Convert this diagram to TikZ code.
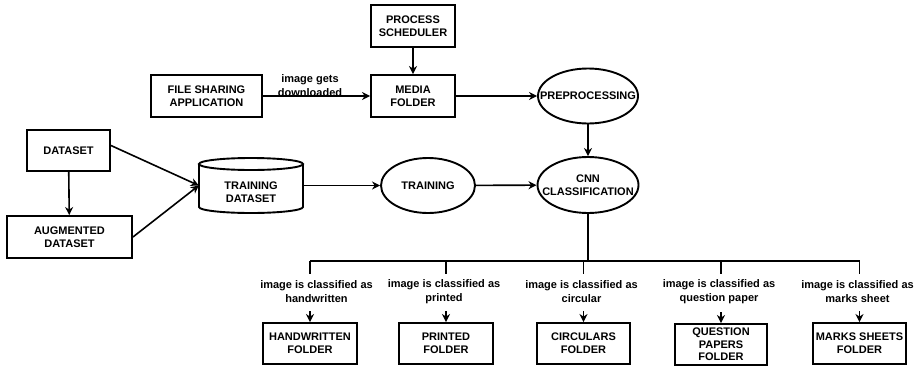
\documentclass[tikz,border=0pt]{standalone}
\usepackage{fontspec}
\setmainfont{Liberation Sans}
\usetikzlibrary{arrows.meta,shapes.geometric}
\begin{document}
\begin{tikzpicture}[x=1pt,y=-1pt,
 box/.style={draw, line width=1.9pt, align=center, inner sep=1pt, font=\bfseries\fontsize{11}{13}\selectfont},
 oval/.style={draw, ellipse, line width=1.9pt, inner sep=0pt},
 txt/.style={align=center, inner sep=0pt, font=\bfseries\fontsize{11}{13}\selectfont},
 lbl/.style={align=center, inner sep=0pt, font=\bfseries\fontsize{11}{14}\selectfont},
 arr/.style={line width=1.6pt, -{Stealth[length=8pt,width=8pt,inset=2.5pt]}},
 ln/.style={line width=1.6pt}]
\useasboundingbox (0,0) rectangle (920,367);

% top row
\node[box, minimum width=84pt, minimum height=42pt] (ps) at (413,26) {PROCESS\\SCHEDULER};
\node[box, minimum width=84pt, minimum height=42pt] (mf) at (413,96) {MEDIA\\FOLDER};
\node[box, minimum width=111pt, minimum height=42pt] (fs) at (206.5,96) {FILE SHARING\\APPLICATION};
\node[oval, minimum width=100pt, minimum height=55pt] (pre) at (588,96) {};
\node[txt] (preT) at (pre.center) {PREPROCESSING};

% middle row
\node[oval, minimum width=101pt, minimum height=56pt] (cnn) at (588,185) {};
\node[txt] (cnnT) at (cnn.center) {CNN\\CLASSIFICATION};
\node[oval, minimum width=94pt, minimum height=55pt] (tr) at (428,185.5) {};
\node[txt] (trT) at (tr.center) {TRAINING};
\node[minimum width=104pt, minimum height=55pt, inner sep=0pt] (td) at (251,185.5) {};
\draw[line width=1.9pt] (199,164) -- (199,207) arc[start angle=180, end angle=360, x radius=52pt, y radius=6pt] -- (303,164);
\draw[line width=1.9pt] (251,164) ellipse[x radius=52pt, y radius=6pt];
\node[txt] (tdT) at (251,192) {TRAINING\\DATASET};

\node[box, minimum width=83pt, minimum height=41pt] (ds) at (68.5,150.5) {DATASET};
\node[box, minimum width=125pt, minimum height=42pt] (ad) at (69.5,237) {AUGMENTED\\DATASET};

% top connectors
\draw[arr] (ps) -- (mf);
\node[lbl] (dl) at (310,86) {image gets\\downloaded};
\draw[arr] (fs) -- (mf);
\draw[arr] (mf) -- (pre);
\draw[arr] (pre) -- (cnn);
\draw[arr] (tr) -- (cnn);
\draw[arr] (td) -- (tr);
\draw[arr] (ds) -- (ad);
\draw[arr] ([yshift=5pt]ds.east) -- (td.west);
\draw[arr] (ad.east) -- (td.west);

% bottom row
\node[box, minimum width=94pt, minimum height=41pt] (hw) at (310,343.5) {HANDWRITTEN\\FOLDER};
\node[box, minimum width=94pt, minimum height=41pt] (pr) at (446,343.5) {PRINTED\\FOLDER};
\node[box, minimum width=93pt, minimum height=41pt] (ci) at (583.5,343.5) {CIRCULARS\\FOLDER};
\node[box, minimum width=92pt, minimum height=41pt, font=\bfseries\fontsize{11}{12.5}\selectfont] (qp) at (721,344.5) {QUESTION\\PAPERS\\FOLDER};
\node[box, minimum width=93pt, minimum height=41pt] (ms) at (859.5,343.5) {MARKS SHEETS\\FOLDER};

\node[lbl] (hwl) at (316.5,292) {image is classified as\\handwritten};
\node[lbl] (prl) at (444,292) {image is classified as\\printed};
\node[lbl] (cil) at (581.5,292) {image is classified as\\circular};
\node[lbl] (qpl) at (719,292) {image is classified as\\question paper};
\node[lbl] (msl) at (857.5,292) {image is classified as\\marks sheet};

\coordinate (bus) at (588,261);
\draw[ln] (cnn.south) -- (bus);
\draw[ln] (hw.north |- bus) -- (ms.north |- bus);
\foreach \n in {hw,pr,ci,qp,ms}{
  \draw[ln] (\n.north |- bus) -- ++(0,13);
  \draw[arr] ([yshift=11pt]\n.north) -- (\n.north);
}
\end{tikzpicture}
\end{document}
